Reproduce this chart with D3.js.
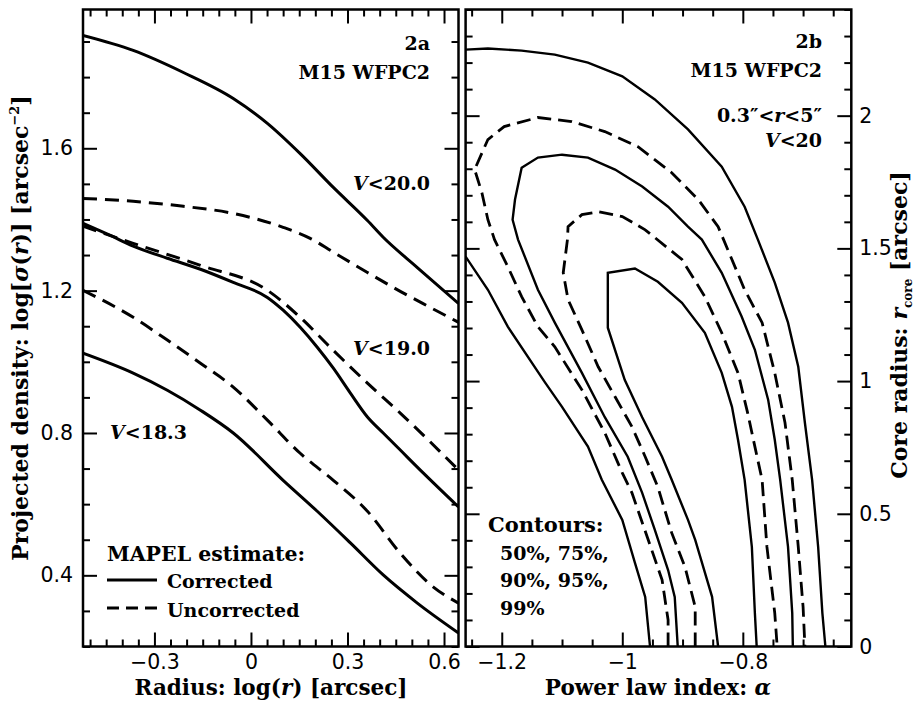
<!DOCTYPE html>
<html>
<head>
<meta charset="utf-8">
<script src="https://cdn.jsdelivr.net/npm/d3@7"></script>
<style>
  body { margin: 0; background: #fff; }
</style>
</head>
<body>
<div id="chart"></div>
<script>
// Panel 2a: log radius [arcsec] vs log projected density, pairs of corrected / uncorrected
const v200Corrected = [[-0.522,1.917],[-0.366,1.875],[-0.210,1.813],[-0.055,1.740],[0.051,1.670],[0.153,1.585],[0.256,1.490],[0.362,1.397],[0.411,1.350],[0.517,1.265],[0.645,1.164]];
const v200Uncorrected = [[-0.522,1.459],[-0.366,1.451],[-0.210,1.437],[-0.055,1.417],[0.100,1.378],[0.184,1.347],[0.256,1.308],[0.362,1.251],[0.464,1.198],[0.557,1.153],[0.645,1.111]];
const v190Corrected = [[-0.522,1.389],[-0.437,1.355],[-0.366,1.325],[-0.260,1.291],[-0.157,1.260],[-0.055,1.223],[0.051,1.181],[0.100,1.145],[0.153,1.097],[0.206,1.041],[0.256,0.982],[0.309,0.912],[0.362,0.845],[0.411,0.800],[0.464,0.752],[0.536,0.687],[0.645,0.592]];
const v190Uncorrected = [[-0.522,1.381],[-0.366,1.333],[-0.157,1.271],[0.051,1.201],[0.153,1.125],[0.256,1.032],[0.362,0.940],[0.464,0.856],[0.645,0.696]];
const v183Corrected = [[-0.522,1.024],[-0.366,0.968],[-0.260,0.920],[-0.157,0.864],[-0.055,0.800],[0.100,0.667],[0.206,0.580],[0.309,0.491],[0.411,0.401],[0.517,0.322],[0.645,0.238]];
const v183Uncorrected = [[-0.522,1.201],[-0.366,1.125],[-0.260,1.061],[-0.157,0.996],[-0.055,0.929],[0.051,0.836],[0.153,0.743],[0.256,0.667],[0.362,0.580],[0.464,0.462],[0.567,0.367],[0.645,0.322]];

// Panel 2b: confidence contours, power law index alpha vs core radius
const c50 = [[-0.841,0],[-0.851,0.187],[-0.879,0.402],[-0.891,0.477],[-0.918,0.628],[-0.934,0.715],[-0.967,0.864],[-0.996,1.005],[-1.024,1.201],[-1.024,1.408],[-0.979,1.424],[-0.941,1.374],[-0.901,1.295],[-0.863,1.182],[-0.835,1.031],[-0.818,0.903],[-0.808,0.779],[-0.797,0.628],[-0.785,0.375],[-0.780,0.126],[-0.777,0]];
const c75 = [[-0.879,0],[-0.879,0.149],[-0.896,0.300],[-0.918,0.428],[-0.941,0.601],[-0.962,0.715],[-0.984,0.828],[-1.012,0.941],[-1.040,1.054],[-1.067,1.193],[-1.090,1.307],[-1.098,1.408],[-1.091,1.533],[-1.090,1.582],[-1.067,1.627],[-1.040,1.638],[-1.000,1.620],[-0.962,1.570],[-0.901,1.458],[-0.863,1.318],[-0.835,1.182],[-0.808,1.031],[-0.792,0.880],[-0.780,0.753],[-0.768,0.628],[-0.760,0.375],[-0.747,0.126],[-0.743,0]];
const c90 = [[-0.908,0],[-0.913,0.187],[-0.924,0.288],[-0.946,0.439],[-0.967,0.579],[-0.991,0.715],[-1.029,0.864],[-1.067,1.031],[-1.112,1.220],[-1.140,1.344],[-1.173,1.533],[-1.182,1.608],[-1.178,1.684],[-1.167,1.804],[-1.140,1.842],[-1.100,1.853],[-1.057,1.842],[-1.012,1.797],[-0.967,1.733],[-0.924,1.657],[-0.891,1.582],[-0.868,1.533],[-0.835,1.408],[-0.802,1.243],[-0.780,1.118],[-0.758,0.930],[-0.747,0.779],[-0.738,0.628],[-0.725,0.375],[-0.718,0.126],[-0.717,0]];
const c95 = [[-0.924,0],[-0.924,0.100],[-0.934,0.251],[-0.957,0.402],[-0.984,0.579],[-1.000,0.654],[-1.029,0.805],[-1.067,0.967],[-1.112,1.129],[-1.140,1.205],[-1.167,1.318],[-1.190,1.431],[-1.212,1.533],[-1.223,1.608],[-1.233,1.710],[-1.245,1.797],[-1.223,1.910],[-1.196,1.959],[-1.140,1.993],[-1.084,1.978],[-1.029,1.940],[-0.974,1.883],[-0.918,1.785],[-0.874,1.684],[-0.841,1.582],[-0.797,1.344],[-0.768,1.220],[-0.747,1.031],[-0.730,0.843],[-0.718,0.628],[-0.708,0.375],[-0.700,0.149],[-0.697,0]];
const c99Left = [[-0.954,0],[-0.962,0.187],[-0.979,0.315],[-1.000,0.477],[-1.034,0.628],[-1.057,0.753],[-1.100,0.903],[-1.128,0.994],[-1.190,1.205],[-1.223,1.344],[-1.260,1.469]];
const c99Right = [[-1.260,2.249],[-1.223,2.253],[-1.167,2.245],[-1.112,2.230],[-1.057,2.200],[-1.000,2.148],[-0.946,2.061],[-0.891,1.948],[-0.835,1.808],[-0.797,1.657],[-0.775,1.533],[-0.747,1.371],[-0.725,1.220],[-0.708,1.054],[-0.697,0.843],[-0.685,0.628],[-0.675,0.375],[-0.668,0.126],[-0.663,0]];

// tick labels
const xTicksA = [-0.3, 0, 0.3, 0.6];
const yTicksA = [0.4, 0.8, 1.2, 1.6];
const xTicksB = [-1.2, -1, -0.8];
const yTicksB = [0, 0.5, 1, 1.5, 2];

const W = 918, H = 701;
const plotTop = 9.5, plotBottom = 646.5;
const serif = "'DejaVu Serif', serif";
const sans = "'DejaVu Sans', sans-serif";

const svg = d3.select("#chart").append("svg")
  .attr("width", W)
  .attr("height", H);

const xA = d3.scaleLinear().domain([-0.522, 0.645]).range([83, 458.5]);
const yA = d3.scaleLinear().domain([0.2, 1.99]).range([plotBottom, plotTop]);
const xB = d3.scaleLinear().domain([-1.26, -0.62]).range([465.6, 851.3]);
const yB = d3.scaleLinear().domain([0, 2.4]).range([plotBottom, plotTop]);

// minor tick helpers
const minorA_x = d3.range(-10, 13).filter(i => i % 6 != 0).map(i => i / 20);
const minorA_y = d3.range(2, 20).filter(i => i % 4 != 0).map(i => i / 10);
const minorB_x = d3.range(-25, -12).filter(i => i % 4 != 0).map(i => i / 20);
const minorB_y = d3.range(0, 25).filter(i => i % 5 != 0).map(i => i / 10);

function axes(g, x, y, o) {
  const [x0, x1] = x.range();
  const add = (axis, tr) => {
    const a = g.append("g").attr("transform", tr).call(axis);
    a.select(".domain").remove();
    a.selectAll("line").attr("stroke-width", 2);
    a.selectAll("text").attr("font-family", sans).attr("font-size", 20.5);
  };
  // bottom / top
  add(d3.axisBottom(x).tickValues(o.xMajor).tickSize(-14).tickPadding(8).tickFormat(o.xFmt), `translate(0,${plotBottom})`);
  add(d3.axisBottom(x).tickValues(o.xMinor).tickSize(-7).tickFormat(""), `translate(0,${plotBottom})`);
  add(d3.axisTop(x).tickValues(o.xMajor).tickSize(-14).tickFormat(""), `translate(0,${plotTop})`);
  add(d3.axisTop(x).tickValues(o.xMinor).tickSize(-7).tickFormat(""), `translate(0,${plotTop})`);
  // left / right
  add(d3.axisLeft(y).tickValues(o.yMajor).tickSize(-14).tickPadding(10).tickFormat(o.labelLeft ? o.yFmt : ""), `translate(${x0},0)`);
  add(d3.axisLeft(y).tickValues(o.yMinor).tickSize(-7).tickFormat(""), `translate(${x0},0)`);
  add(d3.axisRight(y).tickValues(o.yMajor).tickSize(-14).tickPadding(8).tickFormat(o.labelLeft ? "" : o.yFmt), `translate(${x1},0)`);
  add(d3.axisRight(y).tickValues(o.yMinor).tickSize(-7).tickFormat(""), `translate(${x1},0)`);
  g.append("rect")
    .attr("x", x0).attr("y", plotTop)
    .attr("width", x1 - x0).attr("height", plotBottom - plotTop)
    .attr("fill", "none").attr("stroke", "#000").attr("stroke-width", 2.5);
}

// ---------- panel 2a ----------
const gA = svg.append("g");
gA.append("clipPath").attr("id", "clipA").append("rect")
  .attr("x", 83).attr("y", plotTop).attr("width", 458.5 - 83).attr("height", plotBottom - plotTop);

const lineA = d3.line().x(d => xA(d[0])).y(d => yA(d[1])).curve(d3.curveMonotoneX);
const curvesA = [
  [v200Corrected, false], [v200Uncorrected, true],
  [v190Corrected, false], [v190Uncorrected, true],
  [v183Corrected, false], [v183Uncorrected, true]
];
gA.append("g").attr("clip-path", "url(#clipA)")
  .selectAll("path")
  .data(curvesA)
  .enter()
  .append("path")
  .attr("d", d => lineA(d[0]))
  .attr("fill", "none")
  .attr("stroke", "#000")
  .attr("stroke-width", 3)
  .attr("stroke-dasharray", d => d[1] ? "14,8" : null);

axes(gA, xA, yA, {
  xMajor: xTicksA, xMinor: minorA_x, xFmt: d => d === 0 ? "0" : d3.format(".1f")(d),
  yMajor: yTicksA, yMinor: minorA_y, yFmt: d3.format(".1f"), labelLeft: true
});

// ---------- panel 2b ----------
const gB = svg.append("g");
gB.append("clipPath").attr("id", "clipB").append("rect")
  .attr("x", 465.6).attr("y", plotTop).attr("width", 851.3 - 465.6).attr("height", plotBottom - plotTop);

const lineB = d3.line().x(d => xB(d[0])).y(d => yB(d[1]));
const curvesB = [[c50, false], [c75, true], [c90, false], [c95, true], [c99Left, false], [c99Right, false]];
gB.append("g").attr("clip-path", "url(#clipB)")
  .selectAll("path")
  .data(curvesB)
  .enter()
  .append("path")
  .attr("d", d => lineB(d[0]))
  .attr("fill", "none")
  .attr("stroke", "#000")
  .attr("stroke-width", d => d[1] ? 2.8 : 2.4)
  .attr("stroke-dasharray", d => d[1] ? "14,7" : null);

axes(gB, xB, yB, {
  xMajor: xTicksB, xMinor: minorB_x, xFmt: d3.format("~g"),
  yMajor: yTicksB, yMinor: minorB_y, yFmt: d3.format("~g"), labelLeft: false
});

// ---------- text ----------
function label(x, y, anchor, parts, size, rotate) {
  const t = svg.append("text")
    .attr("font-family", serif)
    .attr("font-weight", "bold")
    .attr("font-size", size || 19)
    .attr("text-anchor", anchor);
  if (rotate) t.attr("transform", `translate(${x},${y}) rotate(-90)`);
  else t.attr("x", x).attr("y", y);
  parts.forEach(p => {
    if (typeof p === "string") { t.append("tspan").text(p); return; }
    const s = t.append("tspan").text(p.t);
    if (p.i) s.attr("font-style", "italic");
    if (p.fs) s.attr("font-size", p.fs);
    if (p.dy) s.attr("dy", p.dy);
  });
  return t;
}

// 2a annotations
label(430, 50, "end", ["2a"]);
label(430, 79, "end", ["M15 WFPC2"]);
label(430, 190, "end", [{t: "V", i: 1}, "<20.0"]);
label(430, 355, "end", [{t: "V", i: 1}, "<19.0"]);
label(110, 439, "start", [{t: "V", i: 1}, "<18.3"]);
label(107, 561, "start", ["MAPEL estimate:"], 20.5);
label(167, 588, "start", ["Corrected"]);
label(167, 617, "start", ["Uncorrected"]);
svg.append("line").attr("x1", 107).attr("x2", 157).attr("y1", 580).attr("y2", 580)
  .attr("stroke", "#000").attr("stroke-width", 3);
svg.append("line").attr("x1", 107).attr("x2", 157).attr("y1", 608).attr("y2", 608)
  .attr("stroke", "#000").attr("stroke-width", 3).attr("stroke-dasharray", "12,7");

// 2b annotations
label(822, 48, "end", ["2b"]);
label(822, 77, "end", ["M15 WFPC2"]);
label(822, 122, "end", ["0.3″<", {t: "r", i: 1}, "<5″"]);
label(822, 147, "end", [{t: "V", i: 1}, "<20"]);
label(488, 532, "start", ["Contours:"], 21);
label(500, 560, "start", ["50%, 75%,"]);
label(500, 587, "start", ["90%, 95%,"]);
label(500, 615, "start", ["99%"]);

// axis titles
label(271, 695, "middle", ["Radius: log(", {t: "r", i: 1}, ") [arcsec]"], 21.5);
label(658, 695, "middle", ["Power law index: ", {t: "α", i: 1}], 21.5);
label(28, 328, "middle", ["Projected density: log[", {t: "σ", i: 1}, "(", {t: "r", i: 1}, ")] [arcsec",
  {t: "−2", fs: 13, dy: -9}, {t: "]", dy: 9}], 22, true);
label(907, 325, "middle", ["Core radius: ", {t: "r", i: 1}, {t: "core", fs: 12, dy: 5}, {t: " [arcsec]", dy: -5}], 22, true);
</script>
</body>
</html>
